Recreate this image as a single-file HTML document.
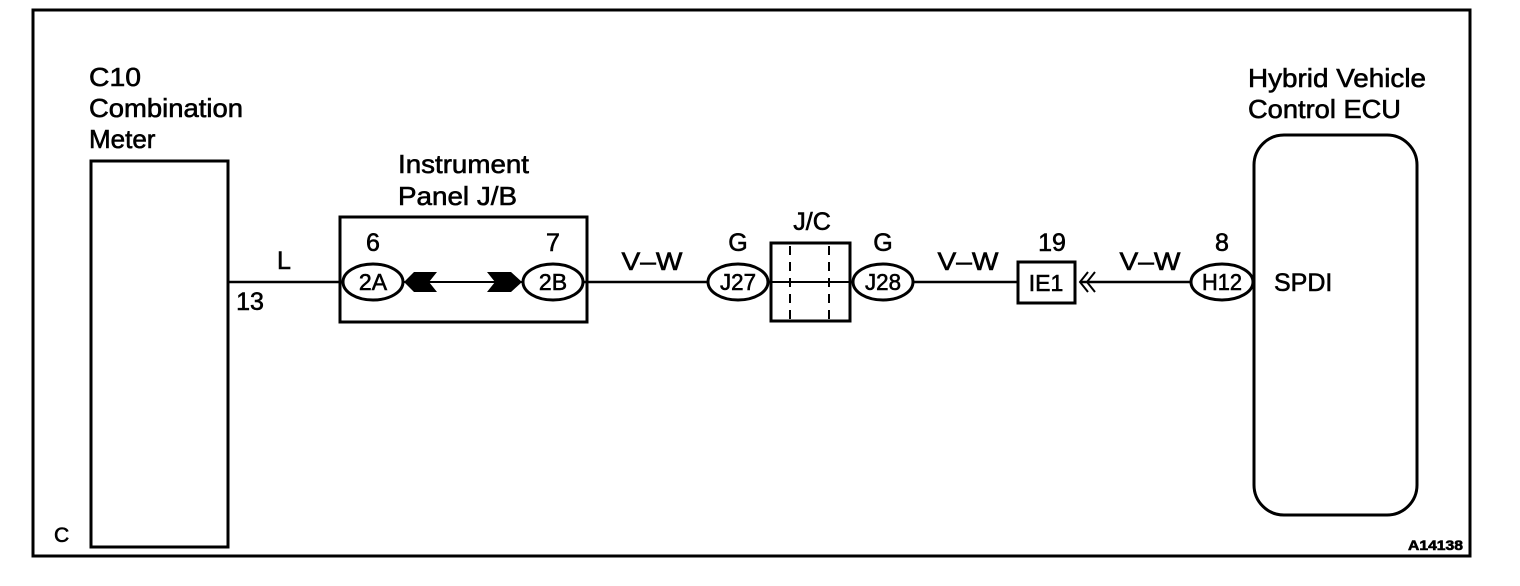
<!DOCTYPE html>
<html><head><style>
html,body{margin:0;padding:0;background:#fff;}
svg{display:block;}
text{font-family:"Liberation Sans",Arial,sans-serif;fill:#000;stroke:#000;stroke-width:0.6;}
</style></head><body>
<svg width="1520" height="586" viewBox="0 0 1520 586" xmlns="http://www.w3.org/2000/svg">
<rect x="33" y="10" width="1437" height="546" fill="none" stroke="#000" stroke-width="3"/>
<g font-size="26">
<text x="89" y="86" textLength="52" lengthAdjust="spacingAndGlyphs">C10</text>
<text x="89" y="117" textLength="154" lengthAdjust="spacingAndGlyphs">Combination</text>
<text x="89" y="148">Meter</text>
<text x="398" y="173" textLength="131" lengthAdjust="spacingAndGlyphs">Instrument</text>
<text x="398" y="205" textLength="119" lengthAdjust="spacingAndGlyphs">Panel J/B</text>
<text x="1248" y="87" textLength="178" lengthAdjust="spacingAndGlyphs">Hybrid Vehicle</text>
<text x="1248" y="118" textLength="153" lengthAdjust="spacingAndGlyphs">Control ECU</text>
</g>
<rect x="91" y="161" width="137" height="386" fill="none" stroke="#000" stroke-width="3"/>
<rect x="340" y="217" width="247" height="105" fill="none" stroke="#000" stroke-width="3"/>
<line x1="228" y1="282" x2="343" y2="282" stroke="#000" stroke-width="2.5"/>
<line x1="403" y1="282" x2="523" y2="282" stroke="#000" stroke-width="2"/>
<line x1="583" y1="282" x2="708" y2="282" stroke="#000" stroke-width="2.5"/>
<line x1="768" y1="282" x2="853" y2="282" stroke="#000" stroke-width="2"/>
<line x1="913" y1="282" x2="1018" y2="282" stroke="#000" stroke-width="2.5"/>
<line x1="1080" y1="282" x2="1190" y2="282" stroke="#000" stroke-width="2.5"/>
<polygon points="404,282 414,272 437,272 429,282 437,292 414,292" fill="#000"/>
<polygon points="487,272 511,272 522,282 511,292 487,292 495,282" fill="#000"/>
<g fill="#fff" stroke="#000" stroke-width="3">
<ellipse cx="373" cy="282" rx="30" ry="18"/>
<ellipse cx="553" cy="282" rx="30" ry="18"/>
<ellipse cx="738" cy="282" rx="30" ry="18"/>
<ellipse cx="883" cy="282" rx="30" ry="18"/>
<ellipse cx="1222" cy="282" rx="31" ry="18"/>
</g>
<rect x="1254" y="135" width="163" height="380" rx="30" fill="#fff" stroke="#000" stroke-width="3"/>
<rect x="771" y="243" width="79" height="78" fill="none" stroke="#000" stroke-width="3"/>
<line x1="771" y1="282" x2="850" y2="282" stroke="#000" stroke-width="2"/>
<line x1="790" y1="246" x2="790" y2="320" stroke="#000" stroke-width="2" stroke-dasharray="9,7"/>
<line x1="829" y1="246" x2="829" y2="320" stroke="#000" stroke-width="2" stroke-dasharray="9,7"/>
<rect x="1018" y="262" width="57" height="41" fill="#fff" stroke="#000" stroke-width="3"/>
<polyline points="1088,272 1080,282 1088,292" fill="none" stroke="#000" stroke-width="2"/>
<polyline points="1095,272 1087,282 1095,292" fill="none" stroke="#000" stroke-width="2"/>
<g font-size="23" text-anchor="middle">
<text x="373" y="290">2A</text>
<text x="553" y="290">2B</text>
<text x="738" y="290" textLength="36" lengthAdjust="spacingAndGlyphs">J27</text>
<text x="883" y="290" textLength="36" lengthAdjust="spacingAndGlyphs">J28</text>
<text x="1222" y="290" textLength="40" lengthAdjust="spacingAndGlyphs">H12</text>
<text x="1046" y="291">IE1</text>
</g>
<g font-size="25" text-anchor="middle">
<text x="373" y="251">6</text>
<text x="553" y="251">7</text>
<text x="284" y="269">L</text>
<text x="250" y="310">13</text>
<text x="652" y="270" textLength="61" lengthAdjust="spacingAndGlyphs">V–W</text>
<text x="738" y="251">G</text>
<text x="812" y="230">J/C</text>
<text x="883" y="251">G</text>
<text x="968" y="270" textLength="61" lengthAdjust="spacingAndGlyphs">V–W</text>
<text x="1052" y="251">19</text>
<text x="1150" y="270" textLength="61" lengthAdjust="spacingAndGlyphs">V–W</text>
<text x="1222" y="251">8</text>
</g>
<text x="1274" y="291" font-size="25">SPDI</text>
<text x="54" y="542" font-size="21">C</text>
<text x="1408" y="550" font-size="14" font-weight="bold" stroke-width="0.3" textLength="55" lengthAdjust="spacingAndGlyphs">A14138</text>
</svg>
</body></html>
